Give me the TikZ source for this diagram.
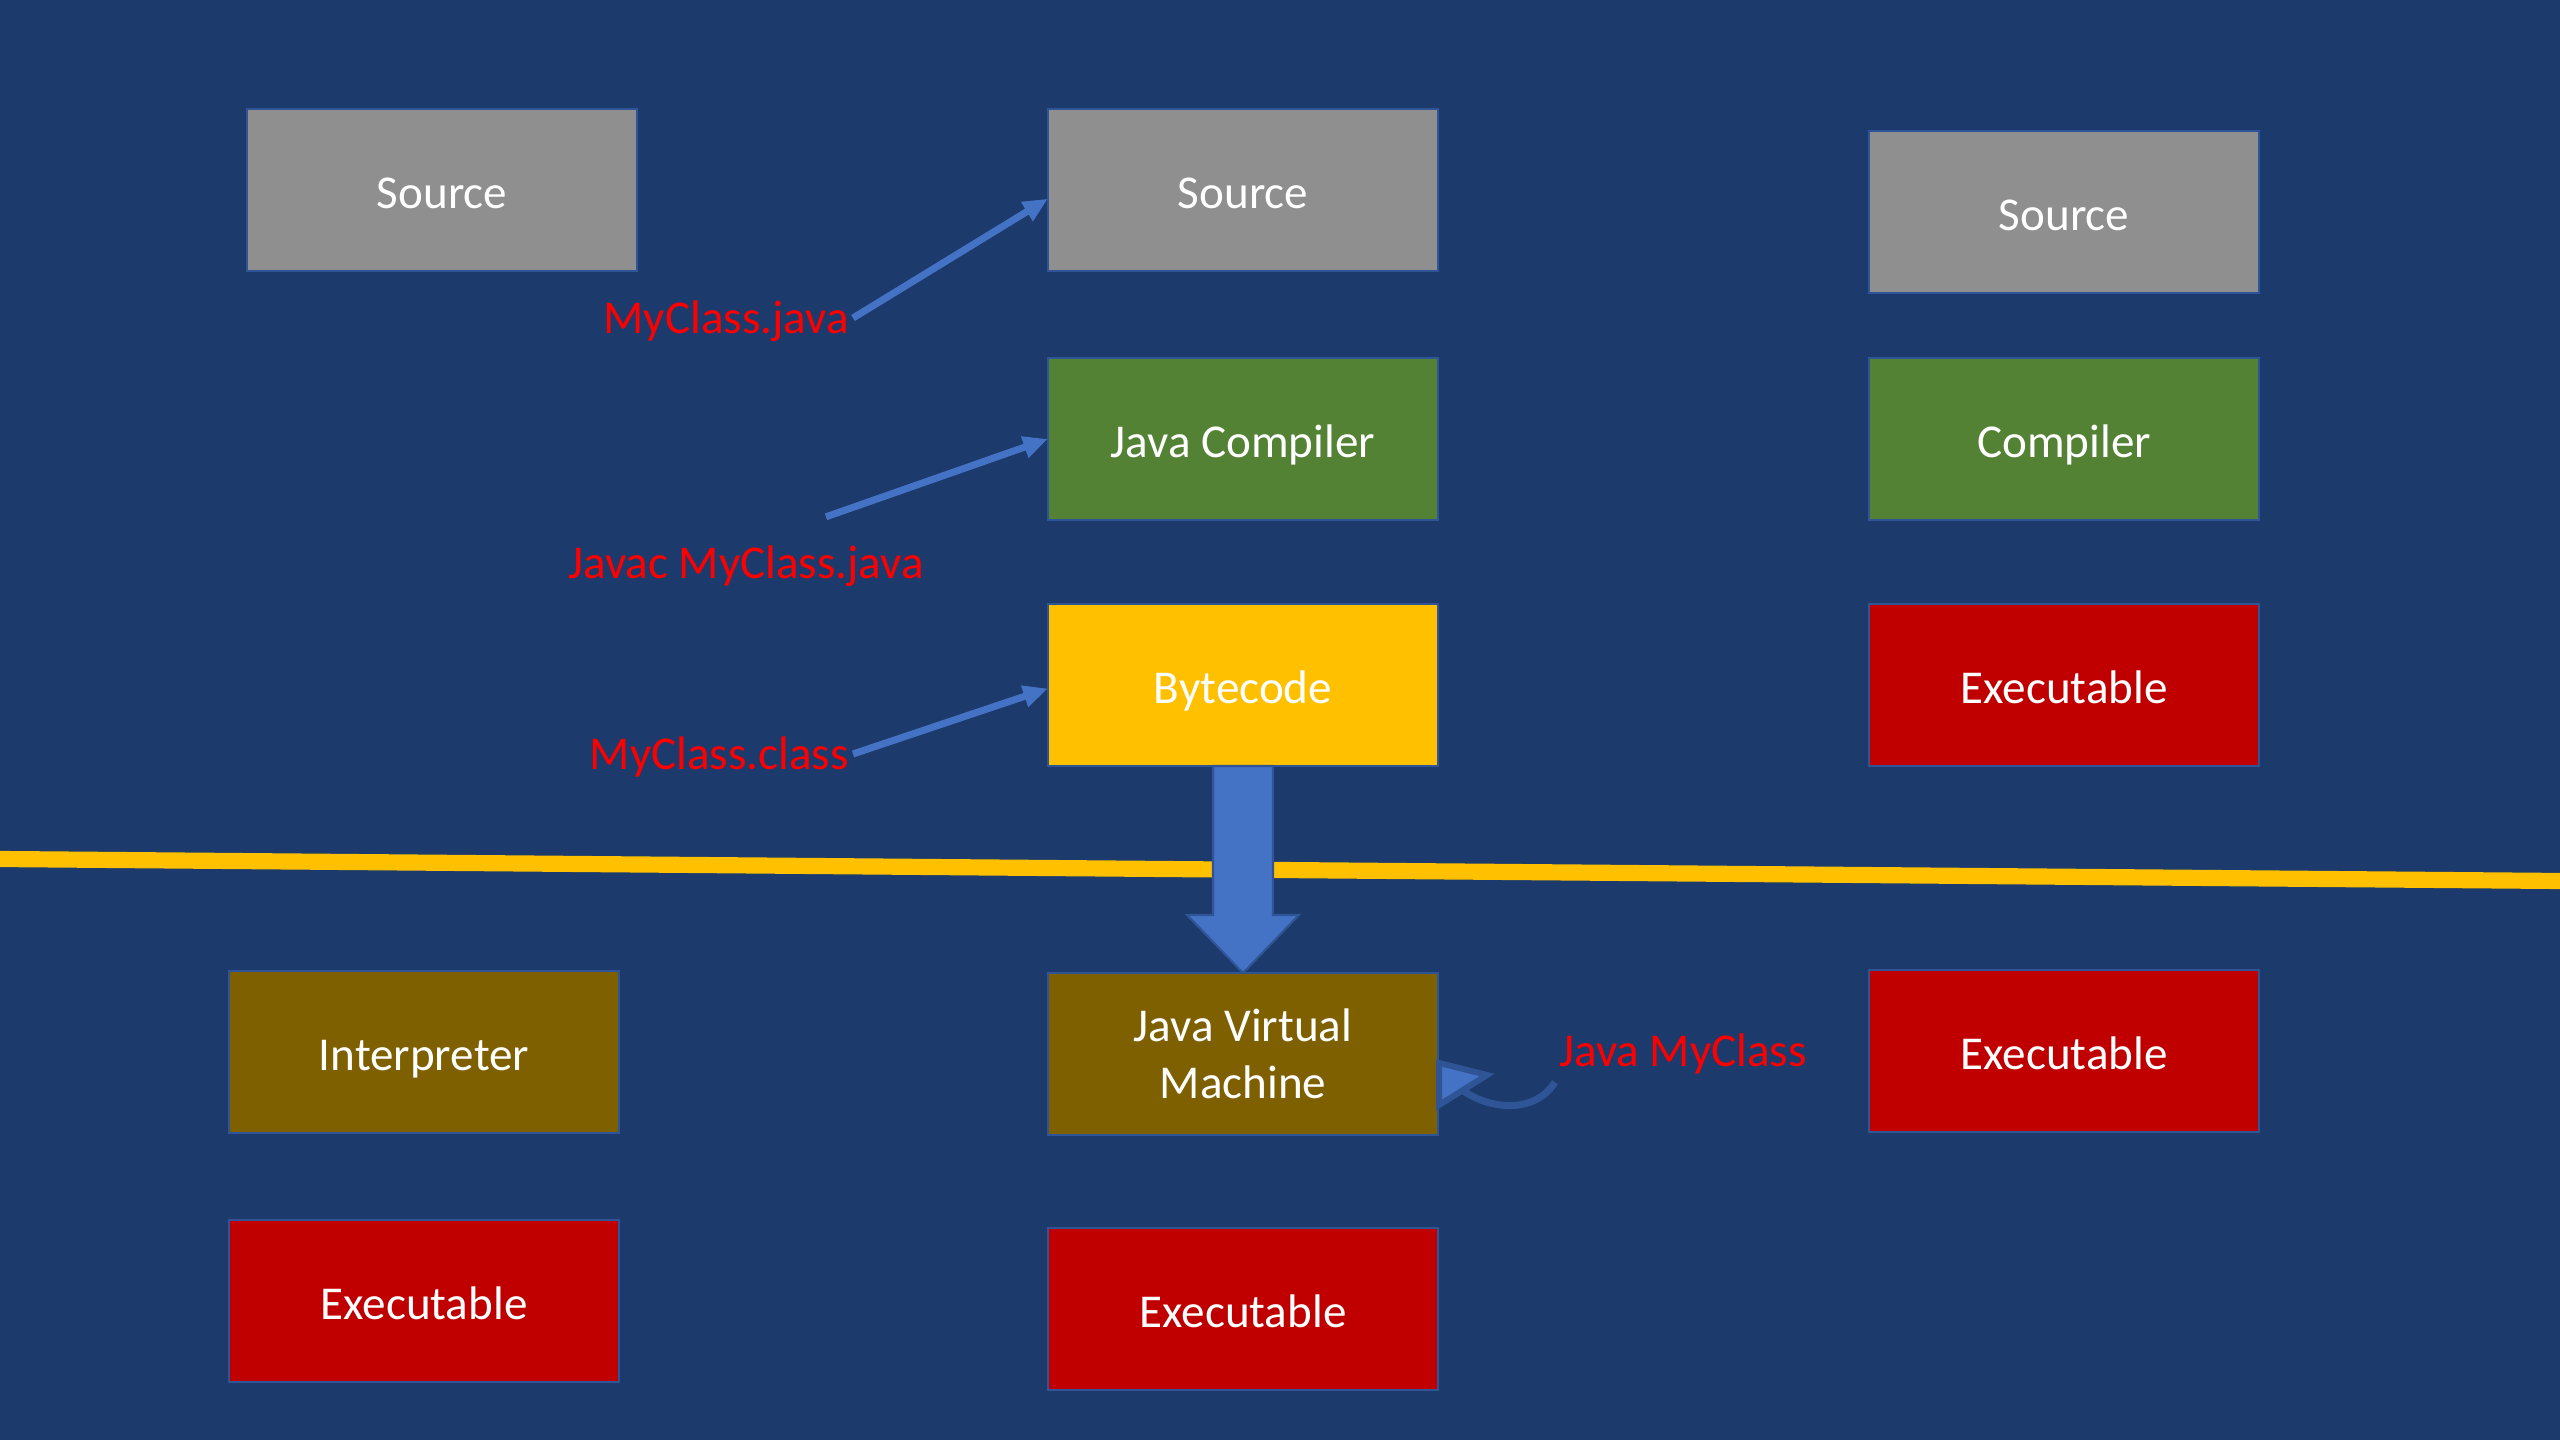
\documentclass[tikz,border=0pt]{standalone}
\usepackage{fontspec}
\setmainfont{Carlito}
\usetikzlibrary{arrows.meta,calc}
\definecolor{bg}{HTML}{1C3A6B}
\definecolor{boxline}{HTML}{2F5597}
\definecolor{gry}{HTML}{8F8F8F}
\definecolor{grn}{HTML}{548235}
\definecolor{yel}{HTML}{FFC000}
\definecolor{rd}{HTML}{C00000}
\definecolor{brn}{HTML}{7F6000}
\definecolor{arrblue}{HTML}{4472C4}
\definecolor{lblred}{HTML}{FF0000}
\begin{document}
\begin{tikzpicture}[x=0.01cm,y=-0.01cm,
  box/.style={draw=boxline, line width=0.6pt, minimum width=3.9cm, minimum height=1.62cm,
    text=white, font=\fontsize{13.4}{16.2}\selectfont, align=center, inner sep=0pt, outer sep=0pt,
    text height=14pt, text depth=3.2pt},
  lbl/.style={text=lblred, font=\fontsize{13.4}{16.2}\selectfont, inner sep=1pt,
    text height=12.5pt, text depth=3.4pt},
  thinarrow/.style={draw=arrblue, line width=2pt, -{Triangle[length=7pt,width=6pt]}},
  curveline/.style={draw=boxline, line width=2pt},
  curvetip/.style={draw=boxline, line width=1.7pt, fill=arrblue, line join=miter},
  bigarrow/.style={fill=arrblue, draw=boxline, line width=0.6pt}]
\useasboundingbox (0,0) rectangle (2560,1440);
\fill[bg] (0,0) rectangle (2560,1440);
% divider
\draw[yel, line width=4.6pt] (0,859) -- (2560,881);
% boxes
\node[box, fill=gry] (s1) at (442,190) {Source};
\node[box, fill=gry] (s2) at (1243,190) {Source};
\node[box, fill=gry] (s3) at (2064,212) {Source};
\node[box, fill=grn] (jc) at (1243,439) {Java Compiler};
\node[box, fill=grn] (cp) at (2064,439) {Compiler};
\node[box, fill=yel] (bc) at (1243,685) {Bytecode};
\node[box, fill=rd] (e1) at (2064,685) {Executable};
\node[box, fill=brn] (ip) at (424,1052) {Interpreter};
\node[box, fill=brn, text height=, text depth=] (jvm) at (1243,1054) {Java Virtual\\Machine};
\node[box, fill=rd] (e2) at (2064,1051) {Executable};
\node[box, fill=rd] (e3) at (424,1301) {Executable};
\node[box, fill=rd] (e4) at (1243,1309) {Executable};
% labels
\node[lbl, anchor=east] (l1) at (853,318) {MyClass.java};
\node[lbl] (l2) at (746,563) {Javac MyClass.java};
\node[lbl, anchor=east] (l3) at (853,754) {MyClass.class};
\node[lbl] (l4) at (1683,1050) {Java MyClass};
% thin arrows
\draw[thinarrow] (l1.east) -- ([yshift=-2.5pt]s2.west);
\coordinate (l2s) at ($(l2.north)+(80,-14)$);
\draw[thinarrow] (l2s) -- (jc.west);
\draw[thinarrow] (l3.east) -- ([yshift=-1pt]bc.west);
% curved arrow into the JVM
\draw[curveline] (l4.south west) .. controls (1535,1114) and (1490,1110) .. ($(jvm.east)+(24,36)$);
\draw[curvetip] ($(jvm.east)+(1,9)$) -- ($(jvm.east)+(49,21)$) -- ($(jvm.east)+(1,51)$) -- cycle;
% big arrow
\draw[bigarrow] ($(bc.south)+(-30,0)$) -- ($(jvm.north)+(-30,-58)$) -- ($(jvm.north)+(-56,-58)$)
  -- (jvm.north) -- ($(jvm.north)+(56,-58)$) -- ($(jvm.north)+(30,-58)$) -- ($(bc.south)+(30,0)$) -- cycle;
\end{tikzpicture}
\end{document}
